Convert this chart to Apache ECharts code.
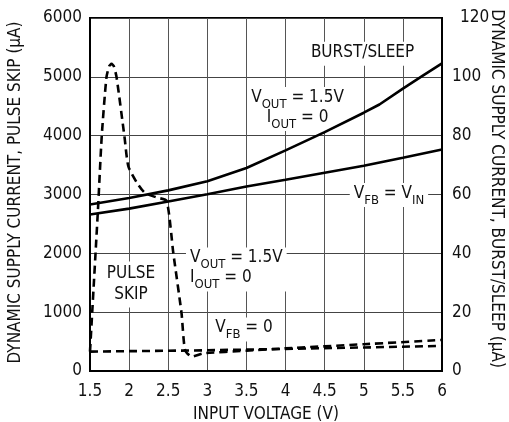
<!DOCTYPE html>
<html><head><meta charset="utf-8">
<script src="https://cdn.jsdelivr.net/npm/echarts@6/dist/echarts.min.js"></script>
<style>html,body{margin:0;padding:0;background:#fff}#c{width:509px;height:422px}</style>
</head><body><div id="c"></div>
<script>
const FONT = "'DejaVu Sans Condensed', 'Liberation Sans Narrow', sans-serif";

// Burst/Sleep (right axis, µA)
const burstVoutX = [1.5, 2, 2.5, 3, 3.5, 4, 4.5, 5, 5.2, 5.5, 5.75, 6];
const burstVoutY = [56.6, 58.8, 61.4, 64.5, 69, 75, 81.2, 87.8, 90.6, 96, 100.3, 104.6];
const burstVinX = [1.5, 2, 2.5, 3, 3.5, 4, 4.5, 5, 5.5, 6];
const burstVinY = [53.2, 55.2, 57.6, 60.1, 62.7, 65, 67.4, 69.8, 72.5, 75.3];

// Pulse skip (left axis, µA)
const pulseVoutX = [1.5, 1.6, 1.65, 1.71, 1.745, 1.775, 1.805, 1.84, 1.94, 1.99, 2.1, 2.2, 2.35, 2.48, 2.565, 2.67, 2.715, 2.8, 2.95, 3.5, 4, 5, 6];
const pulseVoutY = [330, 2700, 3990, 4990, 5180, 5220, 5180, 4990, 3990, 3480, 3200, 3030, 2950, 2890, 2005, 983, 358, 244, 300, 345, 385, 455, 528];
const pulseVfbX = [1.5, 2.27, 3, 4, 5, 6];
const pulseVfbY = [330, 341, 352, 376, 400, 426];

const leftTicks = {min: 0, max: 6000, interval: 1000};
const rightTicks = {min: 0, max: 120, interval: 20};
const xTicks = {min: 1.5, max: 6, interval: 0.5};

const zip = (xs, ys) => xs.map((x, i) => [x, ys[i]]);

const rich = {
  v: {fontFamily: FONT, fontSize: 17, lineHeight: 20, verticalAlign: 'top', fill: '#111'},
  s: {fontFamily: FONT, fontSize: 13, lineHeight: 13, padding: [9, 0, 0, 0], verticalAlign: 'top', fill: '#111'}
};

// annotation anchors (data coords, left axis)
const notes = [
  {text: '{v|BURST/SLEEP}', at: [4.984, 5393], align: 'center'},
  {text: '{v|V}{s|OUT}{v| = 1.5V}\n{v|I}{s|OUT}{v| = 0}', at: [4.153, 4453], align: 'center'},
  {text: '{v|V}{s|FB}{v| = V}{s|IN}', at: [5.322, 2992], align: 'center'},
  {text: '{v|V}{s|OUT}{v| = 1.5V}\n{v|I}{s|OUT}{v| = 0}', at: [2.727, 1725], align: 'left'},
  {text: '{v|V}{s|FB}{v| = 0}', at: [3.469, 705], align: 'center'},
  {text: 'PULSE\nSKIP', at: [2.024, 1470], align: 'center', plain: true}
];

const chart = echarts.init(document.getElementById('c'), null, {renderer: 'canvas'});
const labelStyle = {fontFamily: FONT, fontSize: 17, color: '#111'};
const lineSolid = {color: '#000', width: 2.6, type: 'solid'};
const lineDash = {color: '#000', width: 2.6, type: [8, 5]};

chart.setOption({
  animation: false,
  backgroundColor: '#fff',
  grid: {left: 90, right: 67, top: 18, bottom: 51, show: true, borderColor: '#000', borderWidth: 2,
         containLabel: false, outerBoundsMode: 'none'},
  xAxis: {
    type: 'value', min: xTicks.min, max: xTicks.max, interval: xTicks.interval,
    axisLine: {show: true, lineStyle: {color: '#000', width: 2}},
    axisTick: {show: false},
    splitLine: {show: true, lineStyle: {color: '#555', width: 1}},
    axisLabel: Object.assign({margin: 12, formatter: v => String(v)}, labelStyle),
    name: 'INPUT VOLTAGE (V)', nameLocation: 'middle', nameGap: 35, nameMoveOverlap: false,
    nameTextStyle: labelStyle
  },
  yAxis: [{
    type: 'value', position: 'left', min: leftTicks.min, max: leftTicks.max, interval: leftTicks.interval,
    axisLine: {show: true, lineStyle: {color: '#000', width: 2}},
    axisTick: {show: false},
    splitLine: {show: true, lineStyle: {color: '#444', width: 1}},
    axisLabel: Object.assign({margin: 8, formatter: v => String(v)}, labelStyle),
    name: 'DYNAMIC SUPPLY CURRENT, PULSE SKIP (µA)', nameLocation: 'middle', nameRotate: 90, nameGap: 66,
    nameMoveOverlap: false,
    nameTextStyle: Object.assign({padding: [0, 0, 0, 4]}, labelStyle)
  }, {
    type: 'value', position: 'right', min: rightTicks.min, max: rightTicks.max, interval: rightTicks.interval,
    axisLine: {show: true, lineStyle: {color: '#000', width: 2}},
    axisTick: {show: false},
    splitLine: {show: false},
    axisLabel: Object.assign({margin: 10, formatter: v => v === 120 ? '{o|120}' : String(v),
      rich: {o: {fontFamily: FONT, fontSize: 17, color: '#111', padding: [0, 0, 0, 8]}}}, labelStyle),
    name: 'DYNAMIC SUPPLY CURRENT, BURST/SLEEP (µA)', nameLocation: 'middle', nameRotate: -90, nameGap: 46,
    nameMoveOverlap: false,
    nameTextStyle: Object.assign({padding: [0, 12, 0, 0]}, labelStyle)
  }],
  series: [
    {type: 'line', yAxisIndex: 1, data: zip(burstVoutX, burstVoutY), symbol: 'none', lineStyle: lineSolid, z: 10},
    {type: 'line', yAxisIndex: 1, data: zip(burstVinX, burstVinY), symbol: 'none', lineStyle: lineSolid, z: 10},
    {type: 'line', yAxisIndex: 0, data: zip(pulseVoutX, pulseVoutY), symbol: 'none', smooth: 0.2, lineStyle: lineDash, z: 10},
    {type: 'line', yAxisIndex: 0, data: zip(pulseVfbX, pulseVfbY), symbol: 'none', lineStyle: lineDash, z: 10}
  ]
});

const graphics = notes.map(n => {
  const p = chart.convertToPixel({xAxisIndex: 0, yAxisIndex: 0}, n.at);
  const style = {
    text: n.text, align: n.align, verticalAlign: 'middle',
    backgroundColor: '#fff', padding: [2, 4], fill: '#111'
  };
  if (n.plain) { style.fontFamily = FONT; style.fontSize = 17; style.lineHeight = 21; }
  else { style.rich = rich; }
  return {type: 'text', x: p[0], y: p[1], z: 3, style: style};
});
chart.setOption({graphic: graphics});
</script>
</body></html>
